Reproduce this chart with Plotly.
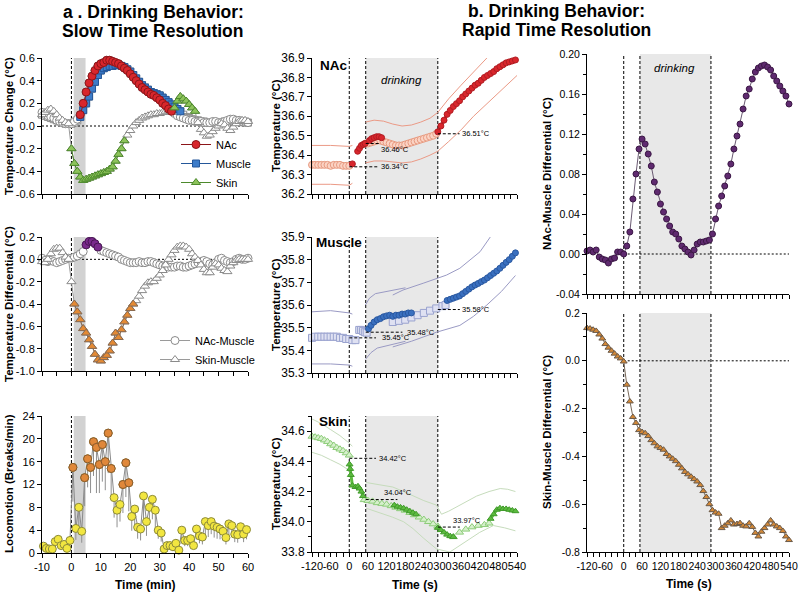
import plotly.graph_objects as go

FONT = "Liberation Sans, Arial, Helvetica, sans-serif"
OFF = 0
FW, FH = 800, 594

# ====================== DATA ======================
# ---- a. Slow time resolution (1-min bins) ----
t_min = list(range(-10, 61))
nac_change = [0.12, 0.10, 0.09, 0.08, 0.07, 0.05, 0.04, 0.03, 0.02, 0.02,
              0.02, 0.04, 0.06, 0.10, 0.20, 0.30, 0.38, 0.44, 0.49, 0.53,
              0.55, 0.56, 0.58, 0.58, 0.57, 0.56, 0.55, 0.53, 0.51, 0.49,
              0.46, 0.43, 0.40, 0.37, 0.34, 0.32, 0.30, 0.28, 0.27, 0.25,
              0.23, 0.20, 0.18, 0.15, 0.13, 0.11, 0.09, 0.08, 0.07, 0.06,
              0.05, 0.05, 0.04, 0.04, 0.04, 0.03, 0.03, 0.03, 0.04, 0.04,
              0.03, 0.03, 0.04, 0.05, 0.06, 0.06, 0.05, 0.05, 0.04, 0.04, 0.03]
muscle_change = [0.10, 0.09, 0.08, 0.07, 0.06, 0.05, 0.04, 0.03, 0.02, 0.02,
                 0.02, 0.03, 0.05, 0.08, 0.14, 0.20, 0.26, 0.33, 0.39, 0.45,
                 0.49, 0.51, 0.52, 0.53, 0.53, 0.54, 0.54, 0.53, 0.52, 0.50,
                 0.48, 0.45, 0.42, 0.39, 0.36, 0.34, 0.32, 0.30, 0.29, 0.28,
                 0.27, 0.25, 0.23, 0.21, 0.19, 0.17, 0.15, 0.13, 0.10, 0.08,
                 0.07, 0.06, 0.05, 0.05, 0.04, 0.04, 0.03, 0.03, 0.03, 0.03,
                 0.03, 0.03, 0.04, 0.04, 0.05, 0.05, 0.05, 0.04, 0.04, 0.03, 0.03]
skin_change = [0.10, 0.12, 0.14, 0.15, 0.13, 0.10, 0.07, 0.05, 0.03, 0.02,
               -0.20, -0.33, -0.40, -0.45, -0.48, -0.47, -0.46, -0.45, -0.44, -0.43,
               -0.42, -0.41, -0.40, -0.38, -0.36, -0.31, -0.25, -0.20, -0.13, -0.08,
               -0.04, 0.00, 0.03, 0.05, 0.07, 0.08, 0.09, 0.10, 0.10, 0.11,
               0.11, 0.12, 0.13, 0.14, 0.12, 0.16, 0.22, 0.26, 0.24, 0.22,
               0.19, 0.16, 0.13, 0.03, -0.03, -0.06, -0.09, -0.08, -0.05, -0.02,
               0.00, 0.02, 0.01, -0.02, -0.04, -0.01, 0.02, 0.04, 0.05, 0.05, 0.04]
nac_sig_win = [(3, 34)]
muscle_sig_win = [(3, 37)]
skin_sig_win = [(0, 18), (35, 42)]

nm_diff = [0.01, -0.01, -0.02, -0.01, -0.02, -0.03, -0.02, -0.01, 0.00, 0.01,
           0.01, 0.02, 0.03, 0.05, 0.07, 0.13, 0.16, 0.16, 0.14, 0.11,
           0.08, 0.07, 0.06, 0.05, 0.04, 0.03, 0.02, 0.00, -0.01, -0.02,
           -0.03, -0.03, -0.03, -0.02, -0.03, -0.03, -0.02, -0.02, -0.03, -0.04,
           -0.05, -0.06, -0.06, -0.07, -0.07, -0.07, -0.06, -0.06, -0.07, -0.07,
           -0.06, -0.05, -0.04, -0.03, -0.02, -0.01, -0.02, -0.04, -0.05, -0.03,
           0.00, 0.01, -0.01, -0.02, -0.03, -0.02, 0.00, 0.01, 0.00, 0.00, 0.01]
sm_diff = [-0.02, -0.03, 0.00, 0.05, 0.09, 0.10, 0.10, 0.06, 0.02, 0.00,
           -0.20, -0.40, -0.47, -0.54, -0.62, -0.66, -0.72, -0.78, -0.85, -0.90,
           -0.91, -0.88, -0.86, -0.82, -0.75, -0.66, -0.70, -0.63, -0.56, -0.50,
           -0.44, -0.40, -0.37, -0.33, -0.28, -0.24, -0.21, -0.20, -0.20, -0.17,
           -0.14, -0.10, -0.05, 0.00, 0.04, 0.08, 0.11, 0.12, 0.12, 0.11,
           0.09, 0.05, 0.02, -0.01, -0.05, -0.09, -0.12, -0.12, -0.07, -0.04,
           -0.05, -0.08, -0.10, -0.11, -0.06, -0.03, -0.01, 0.00, 0.00, 0.00, 0.00]
nm_sig_win = [(5, 9)]
sm_sig_win = [(1, 21)]

t_loco = [m + 0.5 for m in range(-10, 60)]
loco = [1.2, 0.8, 0.7, 0.7, 2.0, 2.4, 1.3, 1.5, 0.8, 2.2,
        15.0, 4.3, 8.0, 3.8, 13.2, 16.5, 15.0, 19.5, 18.5, 15.5,
        19.0, 16.0, 21.0, 14.8, 9.7, 7.5, 8.5, 12.0, 15.8, 12.3,
        6.4, 7.7, 4.5, 4.2, 10.0, 5.5, 8.0, 9.4, 7.5, 4.0,
        3.5, 0.7, 1.3, 1.3, 1.1, 1.7, 0.5, 4.0, 2.2, 2.2,
        2.5, 1.3, 4.2, 3.0, 2.8, 5.5, 4.8, 5.5, 4.7, 4.5,
        4.2, 3.8, 2.7, 5.1, 4.8, 3.3, 3.2, 4.6, 3.3, 4.1]
loco_sem = [0.6, 0.4, 0.4, 0.4, 0.9, 1.2, 0.7, 0.8, 0.4, 1.1,
            6.0, 2.0, 4.5, 2.0, 5.0, 5.0, 4.5, 6.0, 8.0, 5.0,
            6.5, 5.0, 7.0, 5.0, 3.5, 3.0, 3.0, 5.0, 6.0, 5.0,
            2.5, 3.0, 2.0, 2.0, 4.0, 2.5, 3.0, 3.5, 3.0, 1.5,
            1.5, 0.4, 0.6, 0.6, 0.5, 0.8, 0.3, 1.8, 1.0, 1.0,
            1.2, 0.6, 1.8, 1.3, 1.3, 2.2, 2.0, 2.2, 2.0, 2.0,
            1.8, 1.6, 1.2, 2.0, 2.0, 1.4, 1.4, 1.9, 1.4, 1.7]
loco_sig_win = [(0.5, 0.5), (4.5, 13.5), (17.5, 19.5)]
drink_min = [0.8, 4.8]

# ---- b. Rapid time resolution (seconds) ----
drink_s = [53, 285]

# NAc absolute temperature
nac_pre_t = [-120, -110, -100, -90, -80, -70, -60, -50, -40, -30, -20, -10, 0]
nac_pre = [36.35, 36.35, 36.35, 36.35, 36.35, 36.35, 36.345, 36.35, 36.35, 36.35, 36.345, 36.345, 36.345]
nac_sig1_t = [10]
nac_sig1 = [36.355]
nac_sig2_t = [27, 33, 39, 45, 51]
nac_sig2 = [36.42, 36.435, 36.45, 36.455, 36.46]
nac_mid_t = [52, 60, 70, 80, 90, 100, 110, 120, 130, 140, 150, 160, 170, 180, 190, 200,
             210, 220, 230, 240, 250, 260, 270, 280]
nac_mid = [36.46, 36.46, 36.465, 36.47, 36.475, 36.475, 36.47, 36.465, 36.46, 36.455, 36.45, 36.45,
           36.45, 36.455, 36.46, 36.465, 36.47, 36.475, 36.48, 36.485, 36.49, 36.495, 36.50, 36.51]
nac_sig3_t = [65, 72, 80, 88, 96, 104]
nac_sig3 = [36.475, 36.485, 36.49, 36.495, 36.495, 36.49]
nac_post_t = [285, 295, 305, 315, 325, 335, 345, 355, 365, 375, 385, 395, 405, 415, 425,
              435, 445, 455, 465, 475, 485, 495, 505, 515, 525, 535]
nac_post = [36.52, 36.55, 36.58, 36.61, 36.63, 36.65, 36.665, 36.68, 36.70, 36.715, 36.73, 36.745,
            36.76, 36.77, 36.785, 36.80, 36.81, 36.82, 36.83, 36.845, 36.855, 36.865, 36.875,
            36.88, 36.885, 36.89]
nac_hi_pre_t = [-120, -60, 0, 10]
nac_hi_pre = [36.45, 36.45, 36.445, 36.45]
nac_lo_pre = [36.25, 36.25, 36.245, 36.255]
nac_hi_post_t = [52, 80, 110, 140, 170, 200, 230, 260, 285, 320, 360, 400, 443]
nac_hi_post = [36.57, 36.58, 36.575, 36.56, 36.55, 36.555, 36.57, 36.59, 36.62, 36.69, 36.76, 36.83, 36.90]
nac_lo_post_t = [52, 80, 110, 140, 170, 200, 230, 260, 285, 320, 360, 400, 440, 480, 520, 540]
nac_lo_post = [36.36, 36.37, 36.37, 36.365, 36.36, 36.365, 36.38, 36.40, 36.42, 36.47, 36.53,
               36.60, 36.66, 36.72, 36.78, 36.81]
nac_ref = [(0, 95, 36.34), (53, 95, 36.46), (285, 355, 36.51)]
nac_ref_lbl = [(100, 36.34, 0, "36.34°C"), (100, 36.46, -6, "36.46°C"), (360, 36.51, 0, "36.51°C")]

# Muscle absolute temperature
mus_pre_t = [-120, -110, -100, -90, -80, -70, -60, -50, -40, -30, -20, -10, 0, 10, 20]
mus_pre = [35.455, 35.46, 35.46, 35.46, 35.46, 35.46, 35.46, 35.46, 35.46, 35.455, 35.455, 35.45,
           35.45, 35.445, 35.445]
mus_mid1_t = [32, 38, 44, 50, 56]
mus_mid1 = [35.49, 35.49, 35.485, 35.48, 35.478]
mus_sig1_t = [62, 70, 80, 90, 100, 110, 120, 130, 140, 150, 160, 170, 180, 190, 200]
mus_sig1 = [35.495, 35.51, 35.525, 35.535, 35.54, 35.548, 35.552, 35.555, 35.55, 35.555, 35.555,
            35.56, 35.56, 35.565, 35.565]
mus_mid2_t = [140, 160, 180, 200, 220, 240, 260, 280, 300, 310]
mus_mid2 = [35.525, 35.53, 35.535, 35.545, 35.555, 35.565, 35.575, 35.585, 35.595, 35.60]
mus_sig2_t = [315, 325, 335, 345, 355, 365, 375, 385, 395, 405, 415, 425, 435, 445, 455, 465,
              475, 485, 495, 505, 515, 525, 535]
mus_sig2 = [35.62, 35.625, 35.63, 35.635, 35.64, 35.65, 35.66, 35.67, 35.68, 35.688, 35.695,
            35.703, 35.71, 35.72, 35.73, 35.74, 35.75, 35.762, 35.775, 35.788, 35.80, 35.815, 35.83]
mus_hi_pre_t = [-120, -60, 0, 10]
mus_hi_pre = [35.57, 35.575, 35.565, 35.56]
mus_lo_pre = [35.34, 35.34, 35.335, 35.33]
mus_hiA_t = [52, 65, 84, 120, 150, 181]
mus_hiA = [35.60, 35.63, 35.65, 35.66, 35.67, 35.676]
mus_hiB_t = [140, 173, 238, 313, 356, 421, 454]
mus_hiB = [35.644, 35.666, 35.696, 35.732, 35.762, 35.835, 35.90]
mus_loA_t = [52, 70, 90, 120, 150, 181]
mus_loA = [35.36, 35.39, 35.41, 35.42, 35.43, 35.44]
mus_loB_t = [140, 200, 281, 356, 400, 443, 490, 535]
mus_loB = [35.415, 35.44, 35.48, 35.51, 35.55, 35.60, 35.66, 35.73]
mus_ref = [(0, 86, 35.455), (53, 171, 35.48), (285, 356, 35.58)]
mus_ref_lbl = [(103, 35.455, 0, "35.45°C"), (183, 35.48, 0, "35.48°C"), (361, 35.58, 0, "35.58°C")]

# Skin absolute temperature
skin_pre_t = [-120, -110, -100, -90, -80, -70, -60, -50, -40, -30, -20, -10, 0]
skin_pre = [34.565, 34.56, 34.555, 34.55, 34.54, 34.53, 34.515, 34.505, 34.49, 34.48, 34.47,
            34.455, 34.44]
skin_sig1_t = [1, 3, 5, 10, 20, 28, 33, 39, 44]
skin_sig1 = [34.38, 34.35, 34.31, 34.24, 34.23, 34.235, 34.22, 34.20, 34.17]
skin_mid1_t = [48, 60, 75, 90, 105, 120, 135, 150, 165, 180, 195, 210, 225, 240, 255, 270, 285]
skin_mid1 = [34.145, 34.14, 34.135, 34.125, 34.12, 34.115, 34.105, 34.095, 34.085, 34.075, 34.06,
             34.045, 34.03, 34.015, 34.0, 33.985, 33.97]
skin_sig2_t = [145, 155, 165, 175, 185, 195, 205, 215]
skin_sig2 = [34.11, 34.10, 34.095, 34.09, 34.08, 34.07, 34.06, 34.05]
skin_sig3_t = [285, 295, 305, 315, 325, 335]
skin_sig3 = [33.96, 33.945, 33.93, 33.915, 33.905, 33.90]
skin_mid2_t = [335, 355, 375, 395, 415, 435, 450]
skin_mid2 = [33.90, 33.93, 33.95, 33.965, 33.975, 33.98, 33.99]
skin_sig4_t = [455, 465, 475, 485, 495, 505, 515, 525, 535]
skin_sig4 = [34.02, 34.05, 34.08, 34.09, 34.085, 34.085, 34.08, 34.075, 34.07]
skin_hi_pre_t = [-120, -90, -60, -30, 0, 10]
skin_hi_pre = [34.68, 34.65, 34.61, 34.57, 34.52, 34.50]
skin_lo_pre_t = [-120, -90, -60, -30, 0, 8]
skin_lo_pre = [34.46, 34.44, 34.41, 34.38, 34.34, 34.26]
skin_hi_post_t = [54, 100, 140, 175, 205, 240, 281, 297, 320, 356, 385, 410, 450, 486, 510, 535]
skin_hi_post = [34.26, 34.245, 34.23, 34.20, 34.17, 34.14, 34.11, 34.05, 34.07, 34.11, 34.14,
                34.17, 34.20, 34.22, 34.215, 34.20]
skin_lo_post_t = [54, 100, 140, 175, 205, 240, 281, 324, 378, 420, 464, 500, 535]
skin_lo_post = [34.09, 34.06, 34.03, 34.00, 33.955, 33.89, 33.82, 33.80, 33.87, 33.93, 33.975,
                33.96, 33.94]
skin_ref = [(0, 86, 34.42), (53, 155, 34.147), (285, 356, 33.965)]
skin_ref_lbl = [(92, 34.42, 0, "34.42°C"), (108, 34.147, 7, "34.04°C"), (330, 33.965, 7, "33.97°C")]

# Differentials, 10-s bins
t_fast = list(range(-120, 541, 10))
nm_fast = [0.003, 0.004, 0.002, 0.004, -0.003, -0.005, -0.006, -0.009, -0.005, -0.004, 0.002, 0.002,
           0.000, 0.008, 0.022, 0.055, 0.080, 0.105, 0.115, 0.110, 0.100, 0.088,
           0.072, 0.062, 0.050, 0.042, 0.035, 0.028, 0.022, 0.020, 0.015, 0.008,
           0.005, 0.002, -0.001, 0.004, 0.010, 0.012, 0.012, 0.013, 0.014, 0.020,
           0.035, 0.048, 0.058, 0.068, 0.078, 0.090, 0.105, 0.118, 0.130, 0.145,
           0.158, 0.165, 0.175, 0.182, 0.186, 0.188, 0.189, 0.187, 0.184, 0.178,
           0.173, 0.168, 0.163, 0.158, 0.150]
sm_fast = [0.137, 0.135, 0.130, 0.125, 0.110, 0.093, 0.070, 0.055, 0.042, 0.030, 0.018, 0.010,
           -0.003, -0.100, -0.170, -0.235, -0.260, -0.290, -0.298, -0.303, -0.315, -0.332,
           -0.345, -0.358, -0.365, -0.372, -0.390, -0.400, -0.410, -0.420, -0.435, -0.450,
           -0.465, -0.475, -0.485, -0.495, -0.505, -0.520, -0.545, -0.570, -0.600, -0.625,
           -0.635, -0.640, -0.700, -0.690, -0.680, -0.668, -0.685, -0.683, -0.679, -0.690,
           -0.693, -0.680, -0.695, -0.720, -0.735, -0.715, -0.700, -0.685, -0.668, -0.685,
           -0.693, -0.700, -0.712, -0.735, -0.750]

# ====================== FIGURE ======================
fig = go.Figure()


def masked(t, y, wins):
    return [v if any(a <= tt <= b for a, b in wins) else None for tt, v in zip(t, y)]


def add(x, y, ax, mode, marker=None, line=None, name=None, legend=None, showlegend=False, **kw):
    fig.add_trace(go.Scatter(x=x, y=y, xaxis="x" + ax, yaxis="y" + ax, mode=mode, marker=marker,
                             line=line, name=name, showlegend=showlegend, legend=legend,
                             cliponaxis=False, hoverinfo="skip", connectgaps=False, **kw))


def mk(symbol, size, color, edge, ew=1):
    return dict(symbol=symbol, size=size, color=color, line=dict(color=edge, width=ew))


GL = dict(color="#9a9a9a", width=1)

# --- a, top: temperature change ---
add(t_min, muscle_change, "", "lines+markers", mk("square", 7, "white", "#8a8a8a"), GL)
add(t_min, nac_change, "", "lines+markers", mk("circle", 8, "white", "#8a8a8a"), GL)
add(t_min, skin_change, "", "lines+markers", mk("triangle-up", 8, "white", "#8a8a8a"), GL)
add(t_min, masked(t_min, muscle_change, muscle_sig_win), "", "lines+markers",
    mk("square", 7, "#3d7cc9", "#24579a"), dict(color="#24579a", width=1),
    name="Muscle", showlegend=True, legendrank=2)
add(t_min, masked(t_min, nac_change, nac_sig_win), "", "lines+markers",
    mk("circle", 8, "#d8262c", "#8c1519"), dict(color="#8c1519", width=1),
    name="NAc", showlegend=True, legendrank=1)
add(t_min, masked(t_min, skin_change, skin_sig_win), "", "lines+markers",
    mk("triangle-up", 8, "#8dc35b", "#4d8a2c"), dict(color="#4d8a2c", width=1),
    name="Skin", showlegend=True, legendrank=3)

# --- a, middle: differentials ---
add(t_min, nm_diff, "2", "lines+markers", mk("circle", 8, "white", "#8a8a8a"), GL,
    name="NAc-Muscle", legend="legend2", showlegend=True)
add(t_min, sm_diff, "2", "lines+markers", mk("triangle-up", 8, "white", "#8a8a8a"), GL,
    name="Skin-Muscle", legend="legend2", showlegend=True)
add(t_min, masked(t_min, nm_diff, nm_sig_win), "2", "lines+markers",
    mk("circle", 8, "#7a2a8c", "#4a1656"), dict(color="#4a1656", width=1))
add(t_min, masked(t_min, sm_diff, sm_sig_win), "2", "lines+markers",
    mk("triangle-up", 8, "#e48a34", "#8a6a50"), dict(color="#8a6a50", width=1))

# --- a, bottom: locomotion ---
add(t_loco, loco, "3", "lines+markers", mk("circle", 8, "#f2e640", "#8c8a3a"),
    dict(color="#8a8a8a", width=1),
    error_y=dict(type="data", symmetric=False, array=[0] * len(loco), arrayminus=loco_sem,
                 color="#8f8f8f", thickness=1, width=0))
add(t_loco, masked(t_loco, loco, loco_sig_win), "3", "markers", mk("circle", 8, "#e0883a", "#8a5a2e"))


# --- b, absolute temperatures ---
def band(ax, tlist, ylist, color):
    add(tlist, ylist, ax, "lines", line=dict(color=color, width=1))


def light(ax, t, y, symbol, fill, edge):
    add(t, y, ax, "markers", mk(symbol, 7, fill, edge, 1))


def sig(ax, t, y, symbol, fill, edge):
    add(t, y, ax, "lines+markers", mk(symbol, 6, fill, edge, 1), dict(color=fill, width=3))


NAC_B, NAC_L, NAC_LE, NAC_S, NAC_SE = "#eb9a86", "#fbd3c4", "#e79a80", "#d9262c", "#b01c22"
for tt, yy in [(nac_hi_pre_t, nac_hi_pre), (nac_hi_pre_t, nac_lo_pre), (nac_hi_post_t, nac_hi_post),
               (nac_lo_post_t, nac_lo_post)]:
    band("4", tt, yy, NAC_B)
light("4", nac_pre_t, nac_pre, "circle", NAC_L, NAC_LE)
light("4", nac_mid_t, nac_mid, "circle", NAC_L, NAC_LE)
sig("4", nac_sig1_t, nac_sig1, "circle", NAC_S, NAC_SE)
sig("4", nac_sig2_t, nac_sig2, "circle", NAC_S, NAC_SE)
sig("4", nac_sig3_t, nac_sig3, "circle", NAC_S, NAC_SE)
sig("4", nac_post_t, nac_post, "circle", NAC_S, NAC_SE)

MUS_B, MUS_L, MUS_LE, MUS_S, MUS_SE = "#9a9ac4", "#dfe1f2", "#9aa3cf", "#3a70c0", "#2a58a0"
for tt, yy in [(mus_hi_pre_t, mus_hi_pre), (mus_hi_pre_t, mus_lo_pre), (mus_hiA_t, mus_hiA),
               (mus_hiB_t, mus_hiB), (mus_loA_t, mus_loA), (mus_loB_t, mus_loB)]:
    band("5", tt, yy, MUS_B)
light("5", mus_pre_t, mus_pre, "square", MUS_L, MUS_LE)
light("5", mus_mid1_t, mus_mid1, "square", MUS_L, MUS_LE)
light("5", mus_mid2_t, mus_mid2, "square", MUS_L, MUS_LE)
sig("5", mus_sig1_t, mus_sig1, "circle", MUS_S, MUS_SE)
sig("5", mus_sig2_t, mus_sig2, "circle", MUS_S, MUS_SE)

SK_B, SK_L, SK_LE, SK_S, SK_SE = "#c6dcbc", "#d6f0cc", "#8ccc78", "#5dbb3f", "#3f9a2a"
for tt, yy in [(skin_hi_pre_t, skin_hi_pre), (skin_lo_pre_t, skin_lo_pre),
               (skin_hi_post_t, skin_hi_post), (skin_lo_post_t, skin_lo_post)]:
    band("6", tt, yy, SK_B)
light("6", skin_pre_t, skin_pre, "triangle-up", SK_L, SK_LE)
light("6", skin_mid1_t, skin_mid1, "triangle-up", SK_L, SK_LE)
light("6", skin_mid2_t, skin_mid2, "triangle-up", SK_L, SK_LE)
for tt, yy in [(skin_sig1_t, skin_sig1), (skin_sig2_t, skin_sig2), (skin_sig3_t, skin_sig3),
               (skin_sig4_t, skin_sig4)]:
    sig("6", tt, yy, "triangle-up", SK_S, SK_SE)

# --- b, differentials ---
add(t_fast, nm_fast, "7", "lines+markers", mk("circle", 6, "#5f2a6f", "#3c1846"),
    dict(color="#6a5a72", width=1))
add(t_fast, sm_fast, "8", "lines+markers", mk("triangle-up", 6, "#d48836", "#6a5a4a"),
    dict(color="#7a6a5a", width=1))


# ====================== AXES ======================
def PX(x):
    return (x - OFF) / FW


def PY(y):
    return 1 - (y - OFF) / FH


def px_x(a, b):
    return [PX(a), PX(b)]


def px_y(top, bot):
    return [PY(bot), PY(top)]


def base(size):
    return dict(showline=True, linecolor="black", linewidth=1, ticks="outside", ticklen=4,
                tickwidth=1, tickcolor="black", showgrid=False, zeroline=False, automargin=False,
                tickangle=0, tickfont=dict(family=FONT, size=size, color="black"))


def xax(dom, rng, vals, minor, anchor, labels, size=11):
    d = base(size)
    d.update(domain=dom, range=rng, anchor=anchor, tickmode="array", tickvals=vals,
             ticktext=[str(v) for v in vals], showticklabels=labels,
             minor=dict(ticks="outside", ticklen=4, tickcolor="black", tick0=rng[0], dtick=minor))
    return d


def yax(dom, rng, vals, texts, anchor, size=11, minor=None):
    d = base(size)
    d.update(domain=dom, range=rng, anchor=anchor, tickmode="array", tickvals=vals, ticktext=texts)
    if minor:
        d["minor"] = dict(ticks="outside", ticklen=3, tickcolor="black", tick0=rng[0], dtick=minor)
    return d


XL, XM, XR = px_x(42, 248), px_x(312, 517), px_x(587, 789)
min_ticks = [-10, 0, 10, 20, 30, 40, 50, 60]
sec_ticks = [-120, -60, 0, 60, 120, 180, 240, 300, 360, 420, 480, 540]

lay = dict(
    xaxis=xax(XL, [-10, 60], min_ticks, 5, "y", False),
    yaxis=yax(px_y(58, 194), [-0.6, 0.6], [-0.6, -0.4, -0.2, 0, 0.2, 0.4, 0.6],
              ["-0.6", "-0.4", "-0.2", "0.0", "0.2", "0.4", "0.6"], "x", 11),
    xaxis2=xax(XL, [-10, 60], min_ticks, 5, "y2", False),
    yaxis2=yax(px_y(237, 371), [-1.0, 0.2], [-1.0, -0.8, -0.6, -0.4, -0.2, 0, 0.2],
               ["-1.0", "-0.8", "-0.6", "-0.4", "-0.2", "0.0", "0.2"], "x2", 11),
    xaxis3=xax(XL, [-10, 60], min_ticks, 5, "y3", True, 11),
    yaxis3=yax(px_y(416, 553), [0, 24], [0, 4, 8, 12, 16, 20, 24],
               ["0", "4", "8", "12", "16", "20", "24"], "x3", 11),
    xaxis4=xax(XM, [-120, 540], sec_ticks, 20, "y4", False),
    yaxis4=yax(px_y(58, 194), [36.2, 36.9], [36.2, 36.3, 36.4, 36.5, 36.6, 36.7, 36.8, 36.9],
               ["36.2", "36.3", "36.4", "36.5", "36.6", "36.7", "36.8", "36.9"], "x4", 12),
    xaxis5=xax(XM, [-120, 540], sec_ticks, 20, "y5", False),
    yaxis5=yax(px_y(237, 373), [35.3, 35.9], [35.3, 35.4, 35.5, 35.6, 35.7, 35.8, 35.9],
               ["35.3", "35.4", "35.5", "35.6", "35.7", "35.8", "35.9"], "x5", 12),
    xaxis6=xax(XM, [-120, 540], sec_ticks, 20, "y6", True, 11),
    yaxis6=yax(px_y(416, 552), [33.8, 34.7], [33.8, 34.0, 34.2, 34.4, 34.6],
               ["33.8", "34.0", "34.2", "34.4", "34.6"], "x6", 12, minor=0.1),
    xaxis7=xax(XR, [-120, 540], sec_ticks, 20, "y7", False),
    yaxis7=yax(px_y(54, 294), [-0.04, 0.20], [-0.04, 0, 0.04, 0.08, 0.12, 0.16, 0.20],
               ["-0.04", "0.00", "0.04", "0.08", "0.12", "0.16", "0.20"], "x7", 10.5, minor=0.02),
    xaxis8=xax(XR, [-120, 540], sec_ticks, 20, "y8", True, 10.5),
    yaxis8=yax(px_y(313, 552), [-0.8, 0.2], [-0.8, -0.6, -0.4, -0.2, 0, 0.2],
               ["-0.8", "-0.6", "-0.4", "-0.2", "0.0", "0.2"], "x8", 10.5, minor=0.1),
)

# ====================== SHAPES ======================
shapes = []
VD = "3px,2px"
HD = "2px,2px"


def yd(ax):
    return "y" + ax + " domain"


for ax in ["", "2", "3"]:
    shapes.append(dict(type="rect", xref="x" + ax, yref=yd(ax), x0=drink_min[0], x1=drink_min[1],
                       y0=0, y1=1, fillcolor="#d2d2d2", line=dict(width=0), layer="below"))
    shapes.append(dict(type="line", xref="x" + ax, yref=yd(ax), x0=0, x1=0, y0=0, y1=1,
                       line=dict(color="black", width=1, dash=VD), layer="below"))
for ax in ["", "2"]:
    shapes.append(dict(type="line", xref="x" + ax + " domain", yref="y" + ax, x0=0, x1=1, y0=0, y1=0,
                       line=dict(color="black", width=1, dash=HD), layer="below"))
for ax in ["4", "5", "6", "7", "8"]:
    shapes.append(dict(type="rect", xref="x" + ax, yref=yd(ax), x0=drink_s[0], x1=drink_s[1],
                       y0=0, y1=1, fillcolor="#e8e8e8", line=dict(width=0), layer="below"))
    for xv in [0, drink_s[0], drink_s[1]]:
        shapes.append(dict(type="line", xref="x" + ax, yref=yd(ax), x0=xv, x1=xv, y0=0, y1=1,
                           line=dict(color="black", width=1, dash=VD), layer="below"))
for ax in ["7", "8"]:
    shapes.append(dict(type="line", xref="x" + ax, yref="y" + ax, x0=0, x1=540, y0=0, y1=0,
                       line=dict(color="black", width=1, dash=HD), layer="below"))
for ax, refs in [("4", nac_ref), ("5", mus_ref), ("6", skin_ref)]:
    for x0, x1, yv in refs:
        shapes.append(dict(type="line", xref="x" + ax, yref="y" + ax, x0=x0, x1=x1, y0=yv, y1=yv,
                           line=dict(color="black", width=1, dash="3px,2px"), layer="above"))

# ====================== ANNOTATIONS ======================
ann = []


def txt(text, x, y, size, xanchor="center", yanchor="middle", angle=0, xref="paper", yref="paper",
        yshift=0, italic=False):
    f = dict(family=FONT, size=size, color="black")
    if italic:
        f["style"] = "italic"
    ann.append(dict(text=text, x=x, y=y, xref=xref, yref=yref, showarrow=False, font=f,
                    xanchor=xanchor, yanchor=yanchor, textangle=angle, yshift=yshift, borderpad=0))


def P(xp, yp):
    return PX(xp), PY(yp)


for text, xp, yp in [("<b>a . Drinking Behavior:</b>", 153, 12), ("<b>Slow Time Resolution</b>", 153, 31),
                     ("<b>b. Drinking Behavior:</b>", 556, 11), ("<b>Rapid Time Resolution</b>", 556, 30)]:
    txt(text, *P(xp, yp), 17.5)

for text, xp, yp in [("<b>Temperature Change (°C)</b>", 9, 126),
                     ("<b>Temperature Differential (°C)</b>", 9, 304),
                     ("<b>Locomotion (Breaks/min)</b>", 9, 484),
                     ("<b>Temperature (°C)</b>", 276, 126),
                     ("<b>Temperature (°C)</b>", 276, 305),
                     ("<b>Temperature (°C)</b>", 276, 484),
                     ("<b>NAc-Muscle Differential (°C)</b>", 547, 174),
                     ("<b>Skin-Muscle Differential (°C)</b>", 547, 432)]:
    txt(text, *P(xp, yp), 11.5, angle=-90)

for text, xp, yp in [("<b>Time (min)</b>", 145, 585), ("<b>Time (s)</b>", 415, 585),
                     ("<b>Time (s)</b>", 689, 584)]:
    txt(text, *P(xp, yp), 12)

for text, xp, yp in [("<b>NAc</b>", 319, 65), ("<b>Muscle</b>", 315, 242), ("<b>Skin</b>", 318, 421)]:
    txt(text, *P(xp, yp), 13.5, xanchor="left")

txt("drinking", *P(402, 80), 11.5, italic=True)
txt("drinking", *P(674, 68), 11.5, italic=True)

for ax, labels in [("4", nac_ref_lbl), ("5", mus_ref_lbl), ("6", skin_ref_lbl)]:
    for xv, yv, ys, text in labels:
        txt(text, xv, yv, 7.5, xanchor="left", xref="x" + ax, yref="y" + ax, yshift=ys)

fig.update_layout(
    width=FW, height=FH, margin=dict(l=0, r=0, t=0, b=0), autosize=False,
    paper_bgcolor="white", plot_bgcolor="rgba(0,0,0,0)",
    font=dict(family=FONT, size=11, color="black"),
    shapes=shapes, annotations=ann,
    legend=dict(x=PX(176), y=PY(130), xanchor="left", yanchor="top", bgcolor="rgba(0,0,0,0)",
                font=dict(family=FONT, size=11, color="black"), itemwidth=30, tracegroupgap=0),
    legend2=dict(x=PX(155), y=PY(326), xanchor="left", yanchor="top", bgcolor="rgba(0,0,0,0)",
                 font=dict(family=FONT, size=11, color="black"), itemwidth=30, tracegroupgap=0),
    **lay,
)

# remove the default 8px page margin so the 800x594 figure fills the window exactly
fig.write_html("out.html", config={"displayModeBar": False, "staticPlot": True},
               post_script="document.body.style.margin='0';document.body.style.overflow='hidden';")
